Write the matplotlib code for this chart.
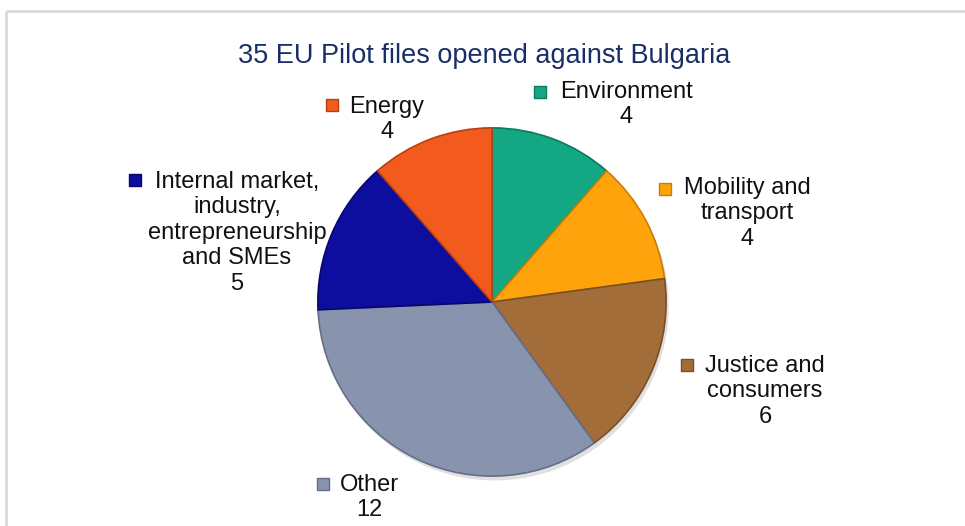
import matplotlib.pyplot as plt
from matplotlib.patches import Rectangle

plt.rcParams['font.family'] = ['Liberation Sans', 'DejaVu Sans']

# data
title = "35 EU Pilot files opened against Bulgaria"
categories = ["Environment", "Mobility and\ntransport", "Justice and\nconsumers",
              "Other", "Internal market,\nindustry,\nentrepreneurship\nand SMEs", "Energy"]
values = [4, 4, 6, 12, 5, 4]
colors = ["#14a783", "#fea30b", "#a36d39", "#8893ad", "#0d0d9e", "#f25a1e"]
edge_colors = ["#0b7a5e", "#c97f05", "#7a4f26", "#646e88", "#07076e", "#b9400f"]

# label layout (pixels): text centre x, first line centre y, marker x, marker y
label_pos = [(626, 93, 540, 92), (747, 189, 665, 189), (765, 367, 687, 365),
             (369, 486, 323, 484), (237, 183, 135, 180), (387, 108, 332, 105)]

W, H = 965, 526
fig = plt.figure(figsize=(W / 100, H / 100), dpi=100)

# overlay in pixel coords
ov = fig.add_axes([0, 0, 1, 1])
ov.set_xlim(0, W)
ov.set_ylim(H, 0)
ov.axis('off')
ov.add_patch(Rectangle((6, 11), 1000, 600, fill=False, edgecolor="#d9d9d9", linewidth=2))

# pie
cx, cy, r = 492, 302, 175
pax = fig.add_axes([(cx - r) / W, (H - cy - r) / H, 2 * r / W, 2 * r / H])
# soft shadow
pax.pie([1], radius=1.0, center=(0.015, -0.025), colors=["#000000"],
        wedgeprops=dict(alpha=0.12, linewidth=0))
wedges, _ = pax.pie(values, colors=colors, startangle=90, counterclock=False,
                    wedgeprops=dict(linewidth=1.2))
for w, ec in zip(wedges, edge_colors):
    w.set_edgecolor(ec)
pax.set_xlim(-1.005, 1.005)
pax.set_ylim(-1.005, 1.005)
pax.set_aspect('auto')
pax.axis('off')

# title
ov.text(484, 56, title, ha='center', va='center', fontsize=19.5, color="#172f66")

# labels
for cat, val, col, ec, (tx, ty, mx, my) in zip(categories, values, colors, edge_colors, label_pos):
    ov.text(tx, ty - 12, f"{cat}\n{val}", ha='center', va='top', fontsize=17,
            color="#111111", multialignment='center', linespacing=1.2)
    ov.scatter([mx], [my], marker='s', s=70, color=col, edgecolors=ec, linewidths=1)

fig.savefig("out.png", dpi=100)
